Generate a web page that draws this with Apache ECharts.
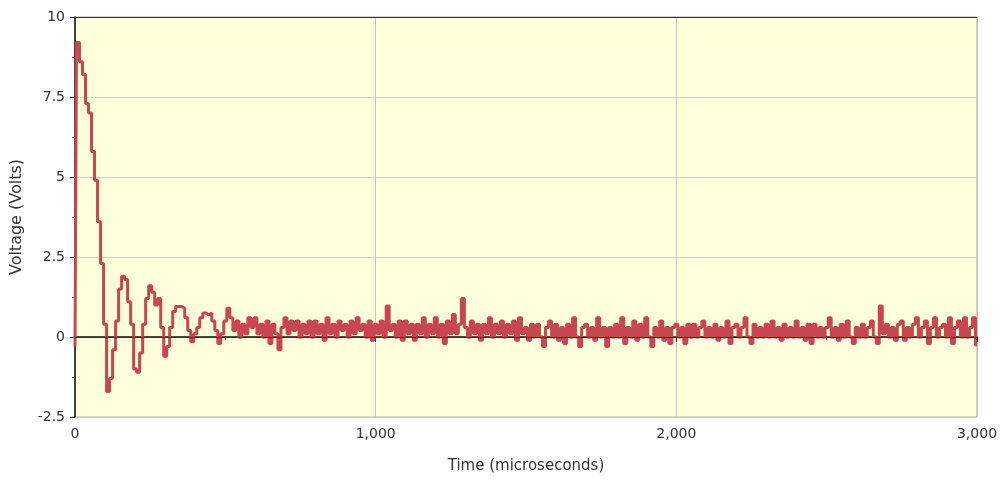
<!DOCTYPE html>
<html>
<head>
<meta charset="utf-8">
<script src="https://cdn.jsdelivr.net/npm/echarts@6/dist/echarts.min.js"></script>
<style>
  html, body { margin: 0; padding: 0; background: #ffffff; }
  #chart { width: 1004px; height: 483px; }
</style>
</head>
<body>
<div id="chart"></div>
<script>
// Sample spacing of the recorded trace, microseconds
const sampleStep = 10;

// Ringing transient, 0 .. 490 us
const ringing = [
  -0.3, 9.2, 8.6, 8.2, 7.3, 7.0, 5.8, 4.9, 3.6, 2.3,
  0.4, -1.7, -1.3, -0.4, 0.5, 1.5, 1.9, 1.8, 1.1, 0.4,
  -1.0, -1.1, -0.5, 0.4, 1.2, 1.6, 1.4, 1.0, 1.2, 0.3,
  -0.6, -0.3, 0.3, 0.8, 0.95, 0.95, 0.9, 0.6, 0.2, -0.15,
  0.1, 0.3, 0.6, 0.75, 0.7, 0.75, 0.5, 0.2, -0.2, 0.1
];

// Settled noisy baseline, 500 .. 3000 us
const settled = [
  0.5, 0.9, 0.6, 0.2, 0.5, 0.0, 0.4, 0.1, 0.6, 0.3,
  0.6, 0.1, 0.4, 0.0, 0.5, -0.2, 0.4, 0.1, -0.4, 0.3,
  0.6, 0.1, 0.5, 0.2, 0.5, 0.0, 0.4, 0.1, 0.5, 0.0,
  0.5, 0.1, 0.4, -0.1, 0.6, 0.1, 0.4, 0.0, 0.5, 0.2,
  0.4, 0.0, 0.5, 0.1, 0.6, 0.2, 0.4, 0.0, 0.5, -0.1,
  0.4, 0.1, 0.5, 0.0, 0.97, 0.2, 0.4, 0.0, 0.5, -0.1,
  0.5, 0.1, 0.4, -0.1, 0.4, 0.1, 0.6, 0.0, 0.4, 0.1,
  0.6, 0.0, 0.4, -0.2, 0.5, 0.1, 0.7, 0.1, 0.4, 1.2,
  0.3, 0.0, 0.5, 0.1, 0.4, -0.1, 0.4, 0.1, 0.6, 0.0,
  0.4, 0.1, 0.5, 0.0, 0.4, 0.1, 0.5, -0.1, 0.6, 0.1,
  0.3, -0.1, 0.4, 0.0, 0.4, 0.0, -0.3, 0.3, 0.5, 0.0,
  0.4, -0.1, 0.3, -0.2, 0.4, 0.0, 0.6, 0.0, -0.3, 0.3,
  0.4, 0.0, 0.3, -0.1, 0.6, 0.0, 0.3, -0.3, 0.3, 0.0,
  0.4, 0.0, 0.6, -0.2, 0.3, 0.0, 0.5, -0.1, 0.4, 0.0,
  0.6, 0.0, -0.3, 0.3, 0.0, 0.5, -0.1, 0.3, -0.2, 0.3,
  0.4, 0.0, 0.3, -0.2, 0.4, 0.0, 0.4, 0.0, 0.3, 0.5,
  0.0, 0.3, 0.0, 0.4, -0.1, 0.3, 0.0, 0.5, -0.2, 0.3,
  0.4, 0.0, 0.3, 0.6, 0.0, -0.2, 0.4, 0.0, 0.3, 0.0,
  0.4, 0.0, 0.5, 0.0, 0.3, -0.1, 0.4, 0.0, 0.3, 0.0,
  0.5, 0.0, 0.3, -0.1, 0.4, -0.2, 0.4, 0.0, 0.3, 0.0,
  0.3, 0.6, 0.0, 0.3, -0.1, 0.4, 0.0, 0.5, 0.0, -0.2,
  0.3, 0.0, 0.4, 0.0, 0.3, 0.5, 0.0, -0.2, 0.97, 0.1,
  0.4, 0.0, 0.3, -0.1, 0.4, 0.5, -0.1, 0.3, 0.0, 0.4,
  0.6, 0.0, 0.3, 0.5, -0.2, 0.3, 0.6, 0.0, 0.3, 0.4,
  0.0, 0.6, -0.2, 0.3, 0.5, 0.0, 0.6, 0.0, 0.3, 0.6,
  -0.25
];

// Axis ticks
const xTicks = [0, 1000, 2000, 3000];
const yTicks = [-2.5, 0, 2.5, 5, 7.5, 10];

const volts = ringing.concat(settled);
const series = volts.map((v, i) => [i * sampleStep, v]);

const font = 'DejaVu Sans, Verdana, sans-serif';
const chart = echarts.init(document.getElementById('chart'), null, { renderer: 'canvas' });

chart.setOption({
  backgroundColor: '#ffffff',
  animation: false,
  grid: {
    left: 75, right: 27, top: 17, bottom: 66,
    show: true,
    backgroundColor: '#ffffdc',
    borderColor: '#a8a8a8',
    borderWidth: 1
  },
  xAxis: {
    type: 'value',
    min: xTicks[0],
    max: xTicks[xTicks.length - 1],
    interval: xTicks[1] - xTicks[0],
    name: 'Time (microseconds)',
    nameLocation: 'middle',
    nameGap: 42,
    nameTextStyle: { fontFamily: font, fontSize: 15, color: '#333' },
    axisLine: { show: true, lineStyle: { color: '#111', width: 1.5 } },
    axisTick: { show: true, length: 5, lineStyle: { color: '#111' } },
    minorTick: { show: true, splitNumber: 2, length: 3, lineStyle: { color: '#333' } },
    axisLabel: {
      fontFamily: font, fontSize: 14, color: '#333', margin: 10,
      formatter: v => v.toLocaleString('en-US')
    },
    splitLine: { show: true, lineStyle: { color: '#c4c4bc', width: 1 } }
  },
  yAxis: {
    type: 'value',
    min: yTicks[0],
    max: yTicks[yTicks.length - 1],
    interval: yTicks[1] - yTicks[0],
    name: 'Voltage (Volts)',
    nameLocation: 'middle',
    nameGap: 50,
    nameTextStyle: { fontFamily: font, fontSize: 16, color: '#333' },
    axisLine: { show: true, onZero: false, lineStyle: { color: '#111', width: 1.5 } },
    axisTick: { show: true, length: 5, lineStyle: { color: '#111' } },
    minorTick: { show: true, splitNumber: 2, length: 3, lineStyle: { color: '#333' } },
    axisLabel: { fontFamily: font, fontSize: 14, color: '#333', margin: 10 },
    splitLine: { show: true, lineStyle: { color: '#cfcfbc', width: 1 } }
  },
  series: [{
    type: 'line',
    data: series,
    step: 'middle',
    showSymbol: false,
    lineStyle: { color: '#c8464f', width: 3 },
    markLine: {
      silent: true,
      symbol: 'none',
      label: { show: false },
      lineStyle: { color: '#333', width: 1, type: 'solid' },
      data: [{ yAxis: 0 }, { yAxis: 10 }]
    }
  }]
});
</script>
</body>
</html>
